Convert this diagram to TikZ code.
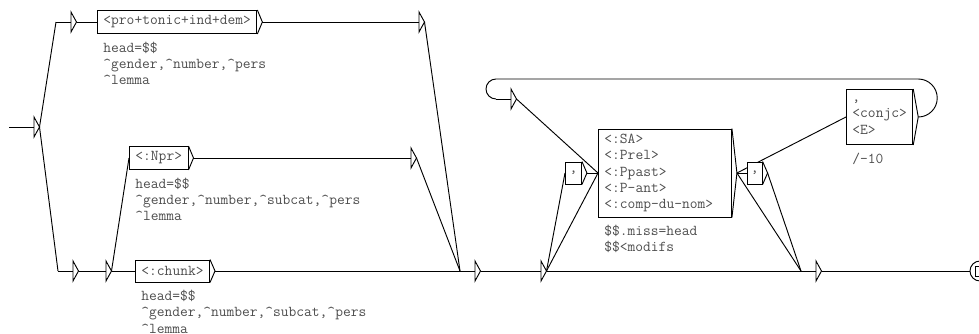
\documentclass[tikz,border=0pt]{standalone}
\usepackage{fontspec}
\usepackage{tikz}
\usetikzlibrary{backgrounds,calc,positioning}
\definecolor{GrfText}{HTML}{4D4D4D}
\newcommand{\grffont}{\ttfamily\fontsize{11.3pt}{12.25pt}\selectfont}
\newcommand{\crt}{\textasciicircum}
\tikzset{
  trans/.style={line width=0.7pt,draw=black},
  grfbox/.style={draw=black,line width=0.7pt,fill=white,anchor=west,align=left,font=\grffont,text=GrfText,inner xsep=4.5pt,inner ysep=0pt,minimum height=17.25pt},
  outtext/.style={align=left,font=\grffont,text=GrfText,inner sep=0pt},
  finalstate/.style={circle,draw=black,line width=0.7pt,fill=white,minimum size=15pt,inner sep=0pt}
}
% triangle on the right side of a box
\newcommand{\boxtri}[1]{%
  \draw[trans] (#1.north east) -- ($(#1.east)+(5,0)$) coordinate (#1-out) -- (#1.south east);}
% empty box: input point, short line, triangle
\newcommand{\epsbox}[3][15]{%
  \coordinate (#2) at #3;
  \coordinate (#2-t) at ($(#2)+(#1,0)$);
  \coordinate (#2-out) at ($(#2-t)+(5.5,0)$);
  \draw[trans] (#2) -- (#2-t);
  \draw[trans] (#2-t) ++(0,-10) -- (#2-out) -- ($(#2-t)+(0,10)$) -- cycle;}

\begin{document}
\begin{tikzpicture}[x=0.75pt,y=-0.75pt]
  \useasboundingbox (0,0) rectangle (979,333);
  % left part
  \epsbox[25]{I}{(9,127)}
  \epsbox{Etop}{(56,22)}
  \epsbox{E1}{(58,271)}
  \epsbox{E2}{(91,271)}
  \node[grfbox] (P) at (97,22) {<pro+tonic+ind+dem>};
  \node[grfbox] (Npr) at (129,158) {<:Npr>};
  \node[grfbox,minimum height=16.5pt] (Chunk) at (135,271) {<:chunk>};
  \node[outtext,below right=5.5pt and 4.5pt of P.south west] (Pout)
    {head=\$\$\\\crt gender,\crt number,\crt pers\\\crt lemma};
  \node[outtext,below right=5.5pt and 4.5pt of Npr.south west] (Nprout)
    {head=\$\$\\\crt gender,\crt number,\crt subcat,\crt pers\\\crt lemma};
  \node[outtext,below right=5.5pt and 4.5pt of Chunk.south west] (Chunkout)
    {head=\$\$\\\crt gender,\crt number,\crt subcat,\crt pers\\\crt lemma};
  \epsbox{B1}{(404,22)}
  \epsbox{B2}{(396,158)}
  \epsbox{M}{(460,271)}
  % right part
  \epsbox{E3}{(526,271)}
  \epsbox{E4}{(496,99)}
  \epsbox{E5}{(801,271)}
  \node[grfbox,minimum width=12pt,minimum height=16.5pt,inner xsep=0pt] (ComA) at (565,173) {,};
  \node[grfbox,text width=90.75pt,minimum height=66pt] (Mods) at (598,173)
    {<:SA>\\<:Prel>\\<:Ppast>\\<:P-ant>\\<:comp-du-nom>};
  \node[grfbox,minimum width=11pt,minimum height=16.5pt,inner xsep=0pt] (ComB) at (747,173) {,};
  \node[grfbox,minimum height=41.25pt] (Conj) at (846,117) {,\\<conjc>\\<E>};
  \node[outtext,below right=5.5pt and 4.5pt of Mods.south west] (Modsout)
    {\$\$.miss=head\\\$\$<modifs};
  \node[outtext,below right=5.5pt and 4.5pt of Conj.south west] (Conjout) {/-10};
  \node[finalstate] (F) at (980,271) {};
  \draw[trans] ($(F.center)+(-5,-5)$) rectangle ($(F.center)+(5,5)$);
  \foreach \b in {P,Npr,Chunk,ComA,Mods,ComB,Conj} {\boxtri{\b}}
  % transitions
  \begin{scope}[on background layer]
    \draw[trans] (I-out) -- (Etop);
    \draw[trans] (I-out) -- (E1);
    \draw[trans] (Etop-out) -- (P.west);
    \draw[trans] (P-out) -- (B1);
    \draw[trans] (B1-out) -- (M);
    \draw[trans] (E1-out) -- (E2);
    \draw[trans] (E2-out) -- (Npr.west);
    \draw[trans] (E2-out) -- (Chunk.west);
    \draw[trans] (Npr-out) -- (B2);
    \draw[trans] (B2-out) -- (M);
    \draw[trans] (Chunk-out) -- (M);
    \draw[trans] (M-out) -- (E3);
    \draw[trans] (E3-out) -- (ComA.west);
    \draw[trans] (E3-out) -- (Mods.west);
    \draw[trans] (E3-out) -- (E5);
    \draw[trans] (ComA-out) -- (Mods.west);
    \draw[trans] (E4-out) -- (Mods.west);
    \draw[trans] (Mods-out) -- (ComB.west);
    \draw[trans] (Mods-out) -- (Conj.west);
    \draw[trans] (Mods-out) -- (E5);
    \draw[trans] (ComB-out) -- (E5);
    \draw[trans] (Conj-out) arc[start angle=-90,end angle=90,radius=14.25pt]
      -- ($(E4)+(0,-20)$) arc[start angle=90,end angle=270,radius=7.5pt] -- (E4);
    \draw[trans] (E5-out) -- (F.west);
  \end{scope}
\end{tikzpicture}
\end{document}
